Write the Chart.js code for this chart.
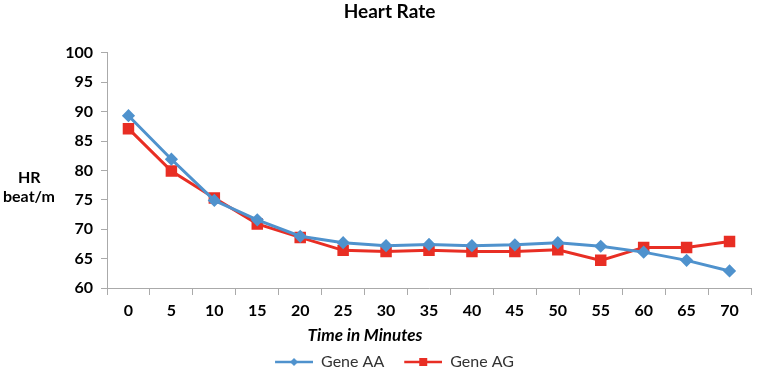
<!DOCTYPE html>
<html>
<head>
<meta charset="utf-8">
<script src="https://cdn.jsdelivr.net/npm/chart.js@4"></script>
<style>
  html, body { margin: 0; padding: 0; background: #fff; }
  #wrap { width: 760px; height: 370px; }
</style>
</head>
<body>
<div id="wrap"><canvas id="hrChart" width="760" height="370"></canvas></div>
<script>
'use strict'

// Heart rate data
const minutes = ['0', '5', '10', '15', '20', '25', '30', '35', '40', '45', '50', '55', '60', '65', '70'];
const geneAA = [89.3, 81.9, 74.9, 71.6, 68.8, 67.7, 67.2, 67.4, 67.2, 67.35, 67.7, 67.1, 66.1, 64.7, 62.9];
const geneAG = [87.1, 79.9, 75.3, 70.9, 68.6, 66.4, 66.2, 66.4, 66.2, 66.2, 66.5, 64.7, 66.9, 66.9, 67.9];
const yTicks = [60, 65, 70, 75, 80, 85, 90, 95, 100];

const blue = 'rgb(79, 146, 205)';
const red = 'rgb(232, 46, 36)';
const axisGray = 'rgb(170, 170, 170)';
const fontFamily = 'Lato, "Open Sans", sans-serif';

// Legend symbol: short line with the marker in the middle (blank space on the left)
function legendSymbol(color, shape) {
    const c = document.createElement('canvas');
    c.width = 48;
    c.height = 10;
    const g = c.getContext('2d');
    g.strokeStyle = color;
    g.lineWidth = 2.5;
    g.beginPath();
    g.moveTo(10, 5);
    g.lineTo(48, 5);
    g.stroke();
    g.fillStyle = color;
    if (shape === 'diamond') {
        g.beginPath();
        g.moveTo(29, 1);
        g.lineTo(33, 5);
        g.lineTo(29, 9);
        g.lineTo(25, 5);
        g.closePath();
        g.fill();
    } else {
        g.fillRect(25, 1, 8, 8);
    }
    return c;
}

// Horizontal y axis label on the left and the x axis title
const sideLabels = {
    id: 'sideLabels',
    afterDraw(chart) {
        const ctx = chart.ctx;
        ctx.save();
        ctx.fillStyle = '#000';
        ctx.font = 'bold 16px ' + fontFamily;
        ctx.textAlign = 'left';
        ctx.textBaseline = 'middle';
        ctx.fillText('HR', 18, 178);
        ctx.fillText('beat/m', 3, 197);

        ctx.font = 'italic bold 17px ' + fontFamily;
        ctx.textAlign = 'center';
        ctx.fillText('Time in Minutes', 365, 336);
        ctx.restore();
    }
};

const ctx = document.getElementById('hrChart').getContext('2d');
const hrChart = new Chart(ctx, {
    type: 'line',
    data: {
        labels: minutes,
        datasets: [
            {
                label: 'Gene AA',
                data: geneAA,
                borderColor: blue,
                backgroundColor: blue,
                borderWidth: 3,
                pointStyle: 'rectRot',
                pointRadius: 4.5,
                tension: 0
            },
            {
                label: 'Gene AG',
                data: geneAG,
                borderColor: red,
                backgroundColor: red,
                borderWidth: 3,
                pointStyle: 'rect',
                pointRadius: 6,
                tension: 0
            }
        ]
    },
    options: {
        responsive: false,
        animation: false,
        layout: { padding: { left: 20, right: 1, top: 0, bottom: -10 } },
        plugins: {
            title: {
                display: true,
                text: 'Heart Rate',
                color: '#000',
                font: { family: fontFamily, size: 19, weight: 'bold' },
                padding: { top: 0, bottom: 30 }
            },
            legend: {
                position: 'bottom',
                labels: {
                    usePointStyle: true,
                    pointStyleWidth: 48,
                    color: '#333',
                    font: { family: fontFamily, size: 16 },
                    padding: 10,
                    generateLabels(chart) {
                        const shapes = ['diamond', 'square'];
                        return chart.data.datasets.map((ds, i) => ({
                            text: ds.label,
                            fillStyle: ds.borderColor,
                            strokeStyle: ds.borderColor,
                            fontColor: '#333',
                            pointStyle: legendSymbol(ds.borderColor, shapes[i]),
                            hidden: false,
                            datasetIndex: i
                        }));
                    }
                }
            },
            tooltip: { enabled: false }
        },
        scales: {
            x: {
                offset: true,
                afterFit(axis) {
                    axis.height = 56;
                },
                grid: {
                    offset: true,
                    drawOnChartArea: false,
                    color: axisGray,
                    tickLength: 7
                },
                border: { color: axisGray, width: 1 },
                ticks: {
                    color: '#000',
                    font: { family: fontFamily, size: 16, weight: 'bold' },
                    padding: 6,
                    maxRotation: 0
                }
            },
            y: {
                min: yTicks[0],
                max: yTicks[yTicks.length - 1],
                afterBuildTicks(axis) {
                    axis.ticks = yTicks.map(v => ({ value: v }));
                },
                afterFit(axis) {
                    axis.width = 87;
                },
                grid: {
                    drawOnChartArea: false,
                    color: axisGray,
                    tickLength: 6
                },
                border: { color: axisGray, width: 1 },
                ticks: {
                    color: '#000',
                    font: { family: fontFamily, size: 16, weight: 'bold' },
                    padding: 8
                }
            }
        }
    },
    plugins: [sideLabels]
});
</script>
</body>
</html>
